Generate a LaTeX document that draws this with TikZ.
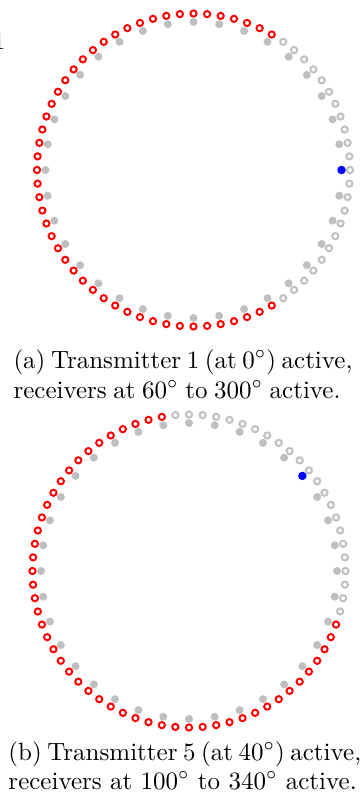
\documentclass[tikz,border=0pt]{standalone}
\begin{document}
\begin{tikzpicture}[x=0.4pt,y=-0.4pt,
  rxon/.style={circle,draw=red,line width=0.78pt,minimum size=2.5pt,inner sep=0pt},
  rxoff/.style={circle,draw=black!25,line width=0.78pt,minimum size=2.5pt,inner sep=0pt},
  txoff/.style={circle,fill=black!25,minimum size=3.2pt,inner sep=0pt},
  txon/.style={circle,fill=blue,minimum size=3.4pt,inner sep=0pt},
  captext/.style={anchor=base west,inner sep=0pt,font=\normalsize}]
\useasboundingbox (0,0) rectangle (361,802);

% clipped glyph at the left edge
\node[captext] (edge) at (-7.5,49) {1};

% ---- panel (a): transmitter 1 at 0 deg, receivers 60..300 deg ----
\coordinate (ca) at (193.5,170);
\foreach \k in {1,...,36}{
  \pgfmathsetmacro{\ang}{(\k-1)*10}
  \ifnum\k=1 \def\sty{txon}\else\def\sty{txoff}\fi
  \node[\sty] (a-tx-\k) at ({193.5+148*cos(\ang)},{170-148*sin(\ang)}) {};
}
\foreach \k in {0,...,71}{
  \pgfmathtruncatemacro{\ang}{\k*5}
  \ifnum\ang<60 \def\sty{rxoff}\else\ifnum\ang>300 \def\sty{rxoff}\else\def\sty{rxon}\fi\fi
  \node[\sty] (a-rx-\k) at ({193.5+156.5*cos(\ang)},{170-156.5*sin(\ang)}) {};
}
\node[captext] (a-cap1) at (13,368)
  {\makebox[135.6pt][s]{(a) Transmitter 1 (at 0$^\circ$) active,}};
\node[captext] (a-cap2) at (13,398)
  {\makebox[130.8pt][s]{receivers at 60$^\circ$ to 300$^\circ$ active.}};

% ---- panel (b): transmitter 5 at 40 deg, receivers 100..340 deg ----
\coordinate (cb) at (189,571);
\foreach \k in {1,...,36}{
  \pgfmathsetmacro{\ang}{(\k-1)*10}
  \ifnum\k=5 \def\sty{txon}\else\def\sty{txoff}\fi
  \node[\sty] (b-tx-\k) at ({189+148*cos(\ang)},{571-148*sin(\ang)}) {};
}
\foreach \k in {0,...,71}{
  \pgfmathtruncatemacro{\ang}{\k*5}
  \ifnum\ang<100 \def\sty{rxoff}\else\ifnum\ang>340 \def\sty{rxoff}\else\def\sty{rxon}\fi\fi
  \node[\sty] (b-rx-\k) at ({189+156.5*cos(\ang)},{571-156.5*sin(\ang)}) {};
}
\node[captext] (b-cap1) at (8,760)
  {\makebox[138.8pt][s]{(b) Transmitter 5 (at 40$^\circ$) active,}};
\node[captext] (b-cap2) at (8,789) {receivers at 100$^\circ$ to 340$^\circ$ active.};
\end{tikzpicture}
\end{document}
